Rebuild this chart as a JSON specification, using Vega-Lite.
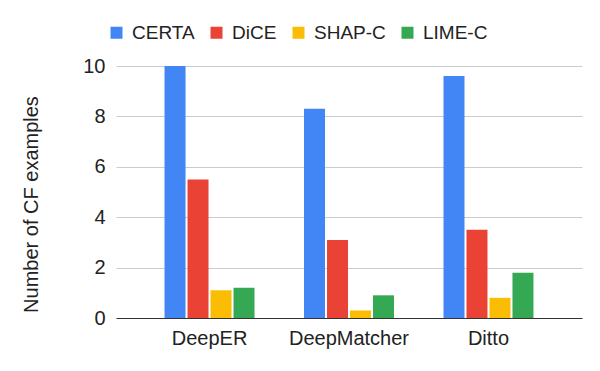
{
  "$schema": "https://vega.github.io/schema/vega-lite/v6.json",
  "width": 466,
  "height": 252,
  "autosize": "none",
  "padding": {"left": 116, "top": 66, "right": 18, "bottom": 53},
  "background": "white",
  "data": {
    "values": [
      {"model": "DeepER", "method": "CERTA", "value": 10},
      {"model": "DeepER", "method": "DiCE", "value": 5.5},
      {"model": "DeepER", "method": "SHAP-C", "value": 1.1},
      {"model": "DeepER", "method": "LIME-C", "value": 1.2},
      {"model": "DeepMatcher", "method": "CERTA", "value": 8.3},
      {"model": "DeepMatcher", "method": "DiCE", "value": 3.1},
      {"model": "DeepMatcher", "method": "SHAP-C", "value": 0.3},
      {"model": "DeepMatcher", "method": "LIME-C", "value": 0.9},
      {"model": "Ditto", "method": "CERTA", "value": 9.6},
      {"model": "Ditto", "method": "DiCE", "value": 3.5},
      {"model": "Ditto", "method": "SHAP-C", "value": 0.8},
      {"model": "Ditto", "method": "LIME-C", "value": 1.8}
    ]
  },
  "mark": {"type": "bar"},
  "encoding": {
    "x": {
      "field": "model",
      "type": "nominal",
      "sort": ["DeepER", "DeepMatcher", "Ditto"],
      "scale": {"paddingInner": 0.355, "paddingOuter": 0.348},
      "axis": {
        "title": null,
        "labelAngle": 0,
        "ticks": false,
        "labelPadding": 10,
        "labelFontSize": 20,
        "labelFont": "Liberation Sans",
        "labelColor": "#222222",
        "domain": true,
        "domainColor": "#333333",
        "domainWidth": 1,
        "grid": false
      }
    },
    "xOffset": {
      "field": "method",
      "type": "nominal",
      "sort": ["CERTA", "DiCE", "SHAP-C", "LIME-C"],
      "scale": {"paddingInner": 0.087, "paddingOuter": 0}
    },
    "y": {
      "field": "value",
      "type": "quantitative",
      "scale": {"domain": [0, 10], "nice": false},
      "axis": {
        "title": "Number of CF examples",
        "titleFont": "Liberation Sans",
        "titleFontSize": 20,
        "titleFontWeight": "normal",
        "titleColor": "#222222",
        "titleX": -85,
        "titleY": 138,
        "titleBaseline": "middle",
        "titleAngle": -90,
        "values": [0, 2, 4, 6, 8, 10],
        "ticks": false,
        "domain": false,
        "labelPadding": 11,
        "labelFontSize": 20,
        "labelFont": "Liberation Sans",
        "labelColor": "#222222",
        "gridColor": "#cccccc",
        "gridWidth": 1
      }
    },
    "color": {
      "field": "method",
      "type": "nominal",
      "sort": ["CERTA", "DiCE", "SHAP-C", "LIME-C"],
      "scale": {
        "domain": ["CERTA", "DiCE", "SHAP-C", "LIME-C"],
        "range": ["#4285F4", "#EA4335", "#FBBC04", "#34A853"]
      },
      "legend": {
        "title": null,
        "orient": "none",
        "direction": "horizontal",
        "legendX": -9,
        "legendY": -43,
        "symbolType": "square",
        "symbolSize": 144,
        "symbolStrokeWidth": 0,
        "labelFont": "Liberation Sans",
        "labelFontSize": 19,
        "labelColor": "#222222",
        "labelOffset": 6,
        "columnPadding": 12
      }
    }
  },
  "config": {
    "view": {"stroke": null}
  }
}
